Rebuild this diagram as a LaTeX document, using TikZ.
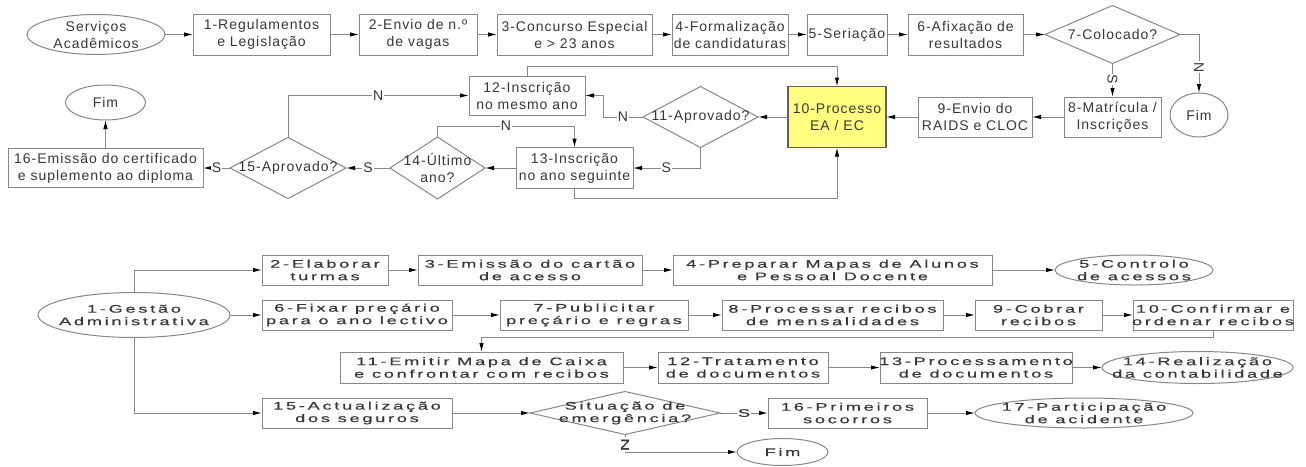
\documentclass[tikz,border=0pt]{standalone}
\usepackage{fontspec}
\setmainfont{Liberation Sans}
\newfontfamily\topf{Liberation Sans}[LetterSpace=7]
\newfontfamily\botf{Liberation Sans}[FakeStretch=1.65,LetterSpace=25,FakeBold=0.5]
\usetikzlibrary{arrows.meta,shapes.geometric}
\definecolor{lg}{RGB}{135,135,135}
\definecolor{txt}{RGB}{55,55,55}
\definecolor{yel}{RGB}{255,255,128}
\tikzset{
 T/.style={font=\topf\fontsize{14}{17}\selectfont, text=txt, align=center, inner sep=0pt},
 B/.style={font=\botf\fontsize{11}{12.5}\selectfont, text=txt, align=center, inner sep=0pt},
 shp/.style={draw=lg, line width=1pt, inner sep=0pt, outer sep=0pt},
 rbox/.style={shp, rectangle},
 ell/.style={shp, ellipse},
 dia/.style={shp, diamond},
 con/.style={draw=lg, line width=1pt, -{Latex[length=9pt,width=4.5pt,color=black]}},
 tlab/.style={T, fill=white, inner sep=1pt},
 blab/.style={B, fill=white, inner sep=1pt},
}
\begin{document}
\begin{tikzpicture}[x=1pt,y=-1pt]
\useasboundingbox (0,0) rectangle (1306,466);
\fill[white] (0,0) rectangle (1306,466);
% ---------------- top diagram ----------------
\node[ell, minimum width=138pt, minimum height=40pt, label={[T]center:Serviços\\Acadêmicos}] (sa) at (96,34.5) {};
\node[rbox, minimum width=137pt, minimum height=41pt, label={[T]center:1-Regulamentos\\e Legislação}] (b1) at (261.5,34.5) {};
\node[rbox, minimum width=118pt, minimum height=41pt, label={[T]center:2-Envio de n.º\\de vagas}] (b2) at (418,34.5) {};
\node[rbox, minimum width=155pt, minimum height=41pt, label={[T]center:3-Concurso Especial\\e > 23 anos}] (b3) at (574.5,34.5) {};
\node[rbox, minimum width=116pt, minimum height=41pt, label={[T]center:4-Formalização\\de candidaturas}] (b4) at (730,34.5) {};
\node[rbox, minimum width=80pt, minimum height=41pt, label={[T]center:5-Seriação}] (b5) at (847,34.5) {};
\node[rbox, minimum width=115pt, minimum height=41pt, label={[T]center:6-Afixação de\\resultados}] (b6) at (965.5,34.5) {};
\node[dia, minimum width=135pt, minimum height=58pt, label={[T]center:7-Colocado?}] (d7) at (1112.5,34.5) {};
\node[ell, minimum width=58pt, minimum height=44pt, label={[T]center:Fim}] (fim1) at (1199,115) {};
\node[rbox, minimum width=97pt, minimum height=40pt, label={[T]center:8-Matrícula /\\Inscrições}] (b8) at (1112.5,117) {};
\node[rbox, minimum width=114pt, minimum height=40pt, label={[T]center:9-Envio do\\RAIDS e CLOC}] (b9) at (975,117) {};
\node[rbox, draw=gray!75!black, line width=1.8pt, fill=yel, minimum width=98pt, minimum height=61pt, label={[T]center:10-Processo\\EA / EC}] (b10) at (837,117) {};
\node[dia, minimum width=115pt, minimum height=61pt, label={[T]center:11-Aprovado?}] (d11) at (700.5,117) {};
\node[rbox, minimum width=116pt, minimum height=39pt, label={[T]center:12-Inscrição\\no mesmo ano}] (b12) at (527,95.5) {};
\node[rbox, minimum width=117pt, minimum height=41pt, label={[T]center:13-Inscrição\\no ano seguinte}] (b13) at (574.5,168) {};
\node[dia, minimum width=95pt, minimum height=62pt, label={[T]center:14-Último\\ano?}] (d14) at (437.5,168) {};
\node[dia, minimum width=116pt, minimum height=61pt, label={[T]center:15-Aprovado?}] (d15) at (288,168) {};
\node[rbox, minimum width=195pt, minimum height=39pt, label={[T]center:16-Emissão do certificado\\e suplemento ao diploma}] (b16) at (105.5,168) {};
\node[ell, minimum width=80pt, minimum height=35pt, label={[T]center:Fim}] (fim2) at (105.5,102.5) {};

\draw[con] (sa.east) -- (b1.west);
\draw[con] (b1.east) -- (b2.west);
\draw[con] (b2.east) -- (b3.west);
\draw[con] (b3.east) -- (b4.west);
\draw[con] (b4.east) -- (b5.west);
\draw[con] (b5.east) -- (b6.west);
\draw[con] (b6.east) -- (d7.west);
\draw[con] (d7.east) -| node[tlab, rotate=-90, pos=0.78]{N} (fim1.north);
\draw[con] (d7.south) -- node[tlab, rotate=-90, pos=0.47]{S} (b8.north);
\draw[con] (b8.west) -- (b9.east);
\draw[con] (b9.west) -- (b10.east);
\draw[con] (b10.west) -- (d11.east);
\draw[con] (d11.west) -- node[tlab]{N} ++(-40,0) |- (b12.east);
\draw[con] (d11.south) |- node[tlab, pos=0.754]{S} (b13.east);
\draw[con] (b12.north) -- ++(0,-10) -| (b10.north);
\draw[con] (b13.south) -- ++(0,10) -| (b10.south);
\draw[con] (b13.west) -- (d14.east);
\draw[con] (d14.north) -- ++(0,-11) -| node[tlab, pos=0.25]{N} (b13.north);
\draw[con] (d14.west) -- node[tlab]{S} (d15.east);
\draw[con] (d15.north) |- node[tlab, pos=0.749]{N} (b12.west);
\draw[con] (d15.west) -- node[tlab]{S} (b16.east);
\draw[con] (b16.north) -- (fim2.south);

% ---------------- bottom diagram ----------------
\node[ell, minimum width=192pt, minimum height=45pt, label={[B]center:1-Gestão\\Administrativa}] (g1) at (134,315) {};
\node[rbox, minimum width=126pt, minimum height=30pt, label={[B]center:2-Elaborar\\turmas}] (c2) at (325,270) {};
\node[rbox, minimum width=224pt, minimum height=30pt, label={[B]center:3-Emissão do cartão\\de acesso}] (c3) at (530,270) {};
\node[rbox, minimum width=319pt, minimum height=30pt, label={[B]center:4-Preparar Mapas de Alunos\\e Pessoal Docente}] (c4) at (832.5,270) {};
\node[ell, minimum width=158pt, minimum height=30pt, label={[B]center:5-Controlo\\de acessos}] (e5) at (1134,270) {};
\node[rbox, minimum width=190pt, minimum height=30pt, label={[B]center:6-Fixar preçário\\para o ano lectivo}] (c6) at (357,315) {};
\node[rbox, minimum width=188pt, minimum height=30pt, label={[B]center:7-Publicitar\\preçário e regras}] (c7) at (594,315) {};
\node[rbox, minimum width=221pt, minimum height=30pt, label={[B]center:8-Processar recibos\\de mensalidades}] (c8) at (832.5,315) {};
\node[rbox, minimum width=127pt, minimum height=30pt, label={[B]center:9-Cobrar\\recibos}] (c9) at (1038.5,315) {};
\node[rbox, minimum width=160pt, minimum height=30pt, label={[B]center:10-Confirmar e\\ordenar recibos}] (c10) at (1213,315) {};
\node[rbox, minimum width=283pt, minimum height=31pt, label={[B]center:11-Emitir Mapa de Caixa\\e confrontar com recibos}] (c11) at (481.5,367.5) {};
\node[rbox, minimum width=170pt, minimum height=31pt, label={[B]center:12-Tratamento\\de documentos}] (c12) at (743,367.5) {};
\node[rbox, minimum width=192pt, minimum height=31pt, label={[B]center:13-Processamento\\de documentos}] (c13) at (976,367.5) {};
\node[ell, minimum width=191pt, minimum height=32pt, label={[B]center:14-Realização\\da contabilidade}] (e14) at (1197.5,367.5) {};
\node[rbox, minimum width=190pt, minimum height=30pt, label={[B]center:15-Actualização\\dos seguros}] (c15) at (357,413) {};
\node[dia, minimum width=190pt, minimum height=43pt, label={[B]center:Situação de\\emergência?}] (dS) at (625,413) {};
\node[rbox, minimum width=159pt, minimum height=30pt, label={[B]center:16-Primeiros\\socorros}] (c16) at (847.5,413) {};
\node[ell, minimum width=218pt, minimum height=30pt, label={[B]center:17-Participação\\de acidente}] (e17) at (1084,413) {};
\node[ell, minimum width=91pt, minimum height=27pt, label={[B]center:Fim}] (fim3) at (782.5,452) {};

\draw[con] (g1.north) |- (c2.west);
\draw[con] (g1.east) -- (c6.west);
\draw[con] (g1.south) |- (c15.west);
\draw[con] (c2.east) -- (c3.west);
\draw[con] (c3.east) -- (c4.west);
\draw[con] (c4.east) -- (e5.west);
\draw[con] (c6.east) -- (c7.west);
\draw[con] (c7.east) -- (c8.west);
\draw[con] (c8.east) -- (c9.west);
\draw[con] (c9.east) -- (c10.west);
\draw[con] (c10.south) -- ++(0,7) -| (c11.north);
\draw[con] (c11.east) -- (c12.west);
\draw[con] (c12.east) -- (c13.west);
\draw[con] (c13.east) -- (e14.west);
\draw[con] (c15.east) -- (dS.west);
\draw[con] (dS.east) -- node[blab]{S} (c16.west);
\draw[con] (c16.east) -- (e17.west);
\draw[con] (dS.south) |- node[blab, rotate=-90, pos=0.29]{N} (fim3.west);
\end{tikzpicture}
\end{document}
